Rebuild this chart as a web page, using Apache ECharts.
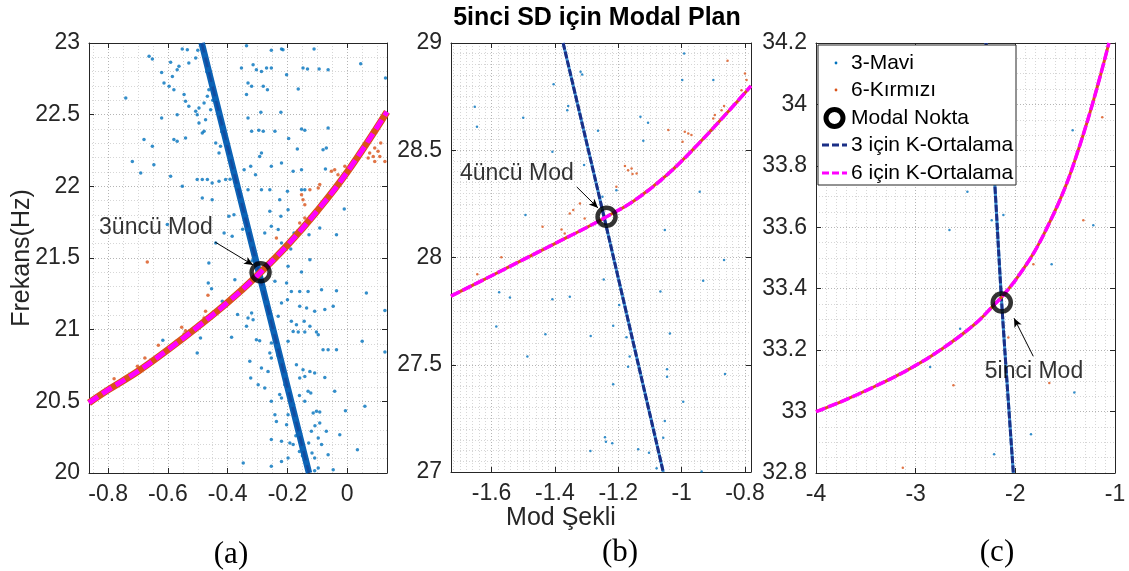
<!DOCTYPE html>
<html>
<head>
<meta charset="utf-8">
<script src="https://cdn.jsdelivr.net/npm/echarts@6/dist/echarts.min.js"></script>
<style>
  html, body { margin: 0; padding: 0; background: #fff; }
  #chart { width: 1129px; height: 571px; }
</style>
</head>
<body>
<div id="chart"></div>
<script>
// ---------------- data ----------------
// axis limits and tick labels of the three panels
const limAX = [-0.864, 0.133], limAY = [20, 23];
const limBX = [-1.728, -0.781], limBY = [27, 29];
const limCX = [-4, -1], limCY = [32.8, 34.2];
const ticksAX = [-0.8, -0.6, -0.4, -0.2, 0];
const ticksAY = [20, 20.5, 21, 21.5, 22, 22.5, 23];
const ticksBX = [-1.6, -1.4, -1.2, -1, -0.8];
const ticksBY = [27, 27.5, 28, 28.5, 29];
const ticksCX = [-4, -3, -2, -1];
const ticksCY = [32.8, 33, 33.2, 33.4, 33.6, 33.8, 34, 34.2];

// panel (a): 3-Mavi scattered points
const blueA = [
  [-0.663,22.907],[-0.652,22.888],[-0.591,22.865],[-0.563,22.837],[-0.530,22.860],[-0.535,22.953],[-0.552,22.958],
  [-0.507,22.895],[-0.621,22.795],[-0.585,22.767],[-0.569,22.814],[-0.741,22.616],[-0.613,22.721],[-0.596,22.698],
  [-0.580,22.674],[-0.546,22.640],[-0.530,22.558],[-0.541,22.593],[-0.507,22.523],[-0.502,22.500],[-0.496,22.547],
  [-0.479,22.581],[-0.468,22.628],[-0.463,22.674],[-0.457,22.535],[-0.569,22.500],[-0.621,22.477],[-0.580,22.326],
  [-0.569,22.314],[-0.541,22.337],[-0.479,22.384],[-0.485,22.372],[-0.496,22.442],[-0.474,22.465],[-0.440,22.302],
  [-0.429,22.233],[-0.424,22.279],[-0.407,22.302],[-0.680,22.326],[-0.652,22.279],[-0.719,22.174],[-0.647,22.151],
  [-0.691,22.093],[-0.591,22.070],[-0.552,22.000],[-0.502,22.047],[-0.485,22.047],[-0.468,22.047],[-0.452,22.023],
  [-0.429,22.035],[-0.407,22.047],[-0.485,21.919],[-0.452,21.907],[-0.396,21.791],[-0.379,21.802],[-0.412,21.674],
  [-0.440,21.605],[-0.602,21.733],[-0.385,21.651],
  [-0.337,22.981],[-0.254,22.949],[-0.220,22.958],[-0.215,22.953],[-0.111,22.958],[-0.354,22.826],[-0.315,22.849],
  [-0.304,22.814],[-0.287,22.802],[-0.270,22.826],[-0.254,22.826],[-0.203,22.779],[-0.148,22.826],[-0.133,22.819],
  [-0.094,22.819],[-0.064,22.814],[0.045,22.856],[0.128,22.756],[-0.332,22.721],[-0.320,22.698],[-0.281,22.698],
  [-0.337,22.640],[-0.164,22.679],[-0.267,22.674],[-0.289,22.516],[-0.222,22.516],[-0.332,22.477],[-0.320,22.384],
  [-0.296,22.391],[-0.281,22.384],[-0.242,22.384],[-0.153,22.400],[-0.142,22.391],[-0.064,22.407],[-0.196,22.333],
  [-0.167,22.260],[-0.081,22.256],[-0.070,22.267],[-0.287,22.233],[-0.293,22.209],[-0.323,22.140],[-0.345,22.116],
  [-0.254,22.140],[-0.220,22.163],[-0.181,22.105],[-0.153,22.116],[-0.073,22.121],[-0.307,22.081],[-0.332,21.977],
  [-0.287,21.977],[-0.259,21.977],[-0.226,21.907],[-0.200,21.965],[-0.153,21.977],[-0.142,21.977],[-0.259,21.826],
  [-0.198,21.837],[-0.222,21.791],[-0.231,21.698],[-0.276,21.674],[-0.254,21.721],[-0.092,21.709],[-0.128,21.663],
  [-0.036,21.663],[-0.010,21.842],[-0.189,21.563],[-0.220,21.605],[-0.178,21.674],
  [-0.463,21.465],[-0.465,21.326],[-0.454,21.286],[-0.376,21.349],[-0.617,20.926],[-0.491,20.942],[-0.502,20.837],
  [-0.387,20.947],[-0.367,21.105],[-0.418,21.198],
  [-0.198,21.442],[-0.153,21.402],[-0.125,21.488],[-0.242,21.337],[-0.203,21.326],[-0.187,21.267],[-0.159,21.267],
  [-0.131,21.267],[-0.086,21.279],[-0.036,21.272],[0.064,21.256],[0.126,21.133],[-0.220,21.186],[-0.200,21.209],
  [-0.159,21.163],[-0.136,21.151],[-0.109,21.128],[-0.075,21.140],[-0.047,21.163],[-0.320,21.116],[-0.332,21.081],
  [-0.315,21.070],[-0.337,21.023],[-0.231,21.093],[-0.187,21.058],[-0.170,21.035],[-0.144,21.058],[-0.125,21.023],
  [-0.103,20.984],[-0.181,20.988],[-0.164,20.984],[-0.142,20.984],[-0.097,20.965],[-0.304,20.930],[-0.293,20.923],
  [-0.254,20.907],[-0.198,20.919],[-0.081,20.860],[-0.064,20.860],[-0.036,20.860],[0.050,20.919],[0.126,20.844],
  [-0.259,20.837],[-0.254,20.802],[-0.326,20.779],[-0.287,20.733],[-0.265,20.709],[-0.220,20.756],[-0.170,20.756],
  [-0.148,20.721],[-0.125,20.709],[-0.109,20.698],[-0.142,20.674],[-0.159,20.663],[-0.323,20.663],[-0.075,20.667],
  [-0.298,20.616],[-0.276,20.593],[-0.226,20.547],[-0.209,20.616],[-0.131,20.570],[-0.122,20.558],[-0.042,20.570],
  [-0.254,20.500],[-0.220,20.523],[-0.142,20.500],[-0.103,20.430],[-0.092,20.426],[-0.114,20.419],[0.059,20.465],
  [-0.006,20.435],[-0.242,20.407],[-0.198,20.407],[-0.237,20.360],[-0.203,20.337],[-0.092,20.349],[-0.120,20.291],
  [-0.070,20.291],[-0.025,20.267],[-0.097,20.244],[-0.254,20.233],[-0.220,20.221],[-0.192,20.209],[-0.181,20.198],
  [-0.086,20.198],[-0.129,20.209],[0.034,20.163],[-0.064,20.128],[-0.109,20.105],[-0.198,20.105],[-0.220,20.081],
  [-0.348,20.070],[-0.254,20.047],[-0.097,20.035],[-0.047,20.023],[-0.109,20.016],
  [-0.160,20.150],[-0.150,20.120],[-0.118,20.140],[-0.172,20.260],[-0.108,20.330],[-0.180,20.480],[-0.160,20.540],
  [-0.200,20.620],[-0.232,20.820],[-0.245,20.960],[-0.262,21.120],[-0.272,21.200],[-0.318,21.480],[-0.350,21.700],
  [-0.392,22.050],[-0.420,22.380],[-0.450,22.600],[-0.470,22.800],[-0.500,22.950]
];
// panel (a): 6-Kırmızı scattered points
const orangeA = [
  [-0.153,21.942],[-0.148,21.907],[-0.142,21.872],[-0.125,21.977],[-0.097,21.988],[-0.092,22.012],[-0.053,22.105],
  [-0.042,22.116],[-0.031,22.081],[-0.008,22.140],[0.003,22.128],[0.075,22.326],[0.092,22.267],[0.103,22.244],
  [0.112,22.302],[0.087,22.209],[0.092,22.174],[0.126,22.174],[0.109,22.209],[0.075,22.233],[0.070,22.198],
  [0.036,22.221],[-0.159,21.744],[-0.142,21.779],[-0.237,21.640],
  [-0.669,21.472],[-0.466,21.240],[-0.474,21.128],[-0.479,21.081],[-0.554,21.016],[-0.541,20.993],[-0.546,20.970],
  [-0.572,20.919],[-0.632,20.891],[-0.677,20.802],[-0.702,20.744],[-0.780,20.658]
];
// panel (a): K-means centre lines
const k3A = [[-0.487,23.0],[-0.370,22.02],[-0.128,20.0]];
const k6A = [[-0.864,20.49],[-0.8,20.58],[-0.7,20.71],[-0.6,20.86],[-0.5,21.02],[-0.4,21.19],[-0.3,21.38],
             [-0.2,21.59],[-0.1,21.83],[0.0,22.10],[0.133,22.52]];
const modalA = [[-0.29, 21.40]];

// panel (b)
const blueB = [
  [-0.992,28.951],[-0.900,28.827],[-0.998,28.827],[-1.319,28.866],[-1.314,28.853],[-1.404,28.808],[-1.358,28.706],
  [-1.361,28.687],[-1.653,28.703],[-1.646,28.609],[-1.500,28.651],[-1.130,28.656],[-1.106,28.628],[-1.264,28.591],
  [-1.408,28.493],[-1.121,28.544],[-0.906,28.591],[-1.308,28.431],[-1.250,28.283],[-1.206,28.314],[-0.943,28.306],
  [-1.493,28.198],[-1.053,28.128],
  [-0.866,27.988],[-0.932,27.892],[-1.067,27.841],[-1.246,27.898],[-1.197,27.779],[-1.576,27.838],[-1.542,27.814],
  [-1.408,27.805],[-1.353,27.817],[-1.585,27.678],[-1.430,27.642],[-1.287,27.634],[-1.216,27.682],[-1.174,27.628],
  [-1.037,27.646],[-1.487,27.538],[-1.164,27.538],[-1.169,27.491],[-1.046,27.479],[-1.046,27.444],[-0.863,27.457],
  [-1.216,27.409],[-0.995,27.328],[-1.053,27.238],[-1.058,27.160],[-1.242,27.162],[-1.239,27.141],[-1.219,27.134],
  [-1.137,27.106],[-1.103,27.090],[-1.288,27.098],[-0.937,27.002],[-1.079,27.017]
];
const orangeB = [
  [-0.855,28.917],[-0.800,28.858],[-0.795,28.827],[-0.811,28.780],[-0.866,28.706],[-0.874,28.687],[-0.895,28.664],
  [-0.900,28.648],[-1.042,28.594],[-0.990,28.586],[-0.979,28.578],[-0.969,28.571],[-0.997,28.540],[-1.179,28.426],
  [-1.169,28.407],[-1.158,28.415],[-1.155,28.389],[-1.142,28.392],[-1.321,28.252],[-1.342,28.221],[-1.353,28.205],
  [-1.306,28.182],[-1.439,28.143],[-1.379,28.131],[-1.369,28.112],[-1.206,28.330],[-1.569,28.001],[-1.645,27.922]
];
const k3B = [[-1.374,29.0],[-1.245,28.19],[-1.058,27.0]];
const k6B = [[-1.728,27.82],[-1.6,27.915],[-1.5,27.99],[-1.4,28.065],[-1.3,28.14],[-1.237,28.19],
             [-1.15,28.265],[-1.05,28.38],[-0.95,28.525],[-0.85,28.685],[-0.781,28.80]];
const modalB = [[-1.237, 28.19]];

// panel (c)
const blueC = [
  [-1.425,33.916],[-2.481,33.716],[-2.237,33.623],[-2.120,33.640],[-2.661,33.591],[-1.218,33.607],
  [-1.636,33.480],[-2.554,33.270],[-2.855,33.145],[-1.408,33.062],[-1.843,32.926],[-2.213,32.861]
];
const orangeC = [
  [-1.128,33.958],[-1.318,33.623],[-1.819,33.480],[-2.070,33.241],[-2.621,33.086],[-1.659,33.093],[-3.129,32.817]
];
const k3C = [[-2.294,34.2],[-2.204,33.73],[-2.136,33.35],[-2.02,32.8]];
const k6C = [[-4,33.0],[-3.757,33.031],[-3.422,33.08],[-3.089,33.134],[-2.755,33.2],[-2.42,33.281],[-2.22,33.345],
             [-2.087,33.392],[-1.95,33.45],[-1.8,33.525],[-1.65,33.62],[-1.5,33.73],[-1.38,33.84],[-1.25,33.975],
             [-1.15,34.09],[-1.061,34.2]];
const modalC = [[-2.136, 33.355]];

// mode annotations: label text, label centre, arrow tail and arrow tip (data units)
const noteA = { text: '3üncü Mod', at: [-0.64, 21.709], from: [-0.442, 21.611], to: [-0.315, 21.451] };
const noteB = { text: '4üncü Mod', at: [-1.52, 28.392], from: [-1.331, 28.329], to: [-1.264, 28.231] };
const noteC = { text: '5inci Mod', at: [-1.813, 33.131], from: [-1.82, 33.18], to: [-2.013, 33.304] };

const legendNames = ['3-Mavi', '6-Kırmızı', 'Modal Nokta', '3 için K-Ortalama', '6 için K-Ortalama'];

// ---------------- drawing ----------------
const FONT = '"Liberation Sans", Arial, Helvetica, sans-serif';
const SERIF = '"Liberation Serif", "Times New Roman", serif';
const AXIS_COLOR = '#262626';
const BLUE = '#0072BD', ORANGE = '#D95319', NAVY = '#1b2f86', MAGENTA = '#FF00FF';

const grids = [
  { left: 89, top: 43, width: 298, height: 430 },
  { left: 451, top: 43, width: 300, height: 429 },
  { left: 816, top: 43, width: 299, height: 430 }
];

function axes(dim, gi, lim, ticks, minorN) {
  const step = +(ticks[1] - ticks[0]).toFixed(6);
  const base = {
    type: 'value', gridIndex: gi, min: lim[0], max: lim[1],
    minInterval: step, maxInterval: step,
    axisLine: { show: true, onZero: false, lineStyle: { color: AXIS_COLOR, width: 1 } },
    axisTick: { show: true, inside: true, length: 5, customValues: ticks, lineStyle: { color: AXIS_COLOR } },
    minorTick: { show: false, splitNumber: minorN }
  };
  const main = Object.assign({}, base, {
    position: dim === 'x' ? 'bottom' : 'left',
    axisLabel: { show: true, customValues: ticks, fontSize: 23, color: AXIS_COLOR, fontFamily: FONT,
                 margin: dim === 'x' ? 10 : 9 },
    splitLine: { show: true, lineStyle: { type: [1, 2], color: '#b5b5b5', width: 1 } },
    minorSplitLine: { show: true, lineStyle: { type: [1, 2], color: '#d6d6d6', width: 1 } }
  });
  const opp = Object.assign({}, base, {
    position: dim === 'x' ? 'top' : 'right',
    axisLabel: { show: false },
    splitLine: { show: false },
    minorSplitLine: { show: false }
  });
  return [main, opp];
}

const xAxes = [].concat(
  axes('x', 0, limAX, ticksAX, 4),
  axes('x', 1, limBX, ticksBX, 10),
  axes('x', 2, limCX, ticksCX, 10)
);
const yAxes = [].concat(
  axes('y', 0, limAY, ticksAY, 5),
  axes('y', 1, limBY, ticksBY, 10),
  axes('y', 2, limCY, ticksCY, 4)
);

function scatter(gi, data, color, size) {
  return { type: 'scatter', xAxisIndex: 2 * gi, yAxisIndex: 2 * gi, data: data, symbol: 'circle',
           symbolSize: size, itemStyle: { color: color }, silent: true, z: 2 };
}
function curve(gi, data, color, width, dash, z, opacity) {
  return { type: 'line', xAxisIndex: 2 * gi, yAxisIndex: 2 * gi, data: data, smooth: 0.4,
           symbol: 'none', showSymbol: false, silent: true, z: z, clip: true,
           lineStyle: { color: color, width: width, type: dash || 'solid', cap: 'butt',
                        opacity: opacity == null ? 1 : opacity } };
}
function modal(gi, data) {
  return { type: 'scatter', xAxisIndex: 2 * gi, yAxisIndex: 2 * gi, data: data, symbol: 'circle',
           symbolSize: 18, silent: true, z: 6,
           itemStyle: { color: 'rgba(0,0,0,0)', borderColor: '#000', borderWidth: 4.5 } };
}
function note(gi, n) {
  return { type: 'scatter', xAxisIndex: 2 * gi, yAxisIndex: 2 * gi, silent: true, z: 7,
           data: [{ value: n.at, name: n.text }], symbolSize: 1, itemStyle: { color: 'rgba(0,0,0,0)' },
           label: { show: true, position: 'inside', formatter: '{b}', fontSize: 23, color: '#000', fontFamily: FONT },
           markLine: { silent: true, animation: false, symbol: ['none', 'arrow'], symbolSize: [6, 9],
                       lineStyle: { color: '#000', width: 1, type: 'solid' }, label: { show: false },
                       data: [[{ coord: n.from }, { coord: n.to }]] } };
}

const series = [
  // (a)
  scatter(0, blueA, BLUE, 3.5),
  scatter(0, orangeA, ORANGE, 3.5),
  curve(0, k3A, '#0c63b6', 6.5, 'solid', 3),
  curve(0, k3A, NAVY, 2.5, [10, 5], 3, 0.45),
  curve(0, k6A, ORANGE, 7, 'solid', 4),
  curve(0, k6A, MAGENTA, 5, [11, 5], 4),
  modal(0, modalA),
  note(0, noteA),
  // (b)
  scatter(1, blueB, BLUE, 2.5),
  scatter(1, orangeB, ORANGE, 2.5),
  curve(1, k3B, '#3d93d6', 3, 'solid', 3),
  curve(1, k3B, NAVY, 3, [7, 2], 3),
  curve(1, k6B, ORANGE, 3, 'solid', 4),
  curve(1, k6B, MAGENTA, 3.5, [10, 3], 4),
  modal(1, modalB),
  note(1, noteB),
  // (c)
  scatter(2, blueC, BLUE, 2.5),
  scatter(2, orangeC, ORANGE, 2.5),
  curve(2, k3C, '#3d93d6', 3, 'solid', 3),
  curve(2, k3C, NAVY, 3, [7, 2], 3),
  curve(2, k6C, ORANGE, 3, 'solid', 4),
  curve(2, k6C, MAGENTA, 3.5, [10, 3], 4),
  modal(2, modalC),
  note(2, noteC)
];

// legend box drawn in the upper-left corner of panel (c)
const LX = 818, LY = 45, rowY = [63, 90, 118, 145, 173];
const legendGraphics = [
  { type: 'rect', shape: { x: LX, y: LY, width: 198, height: 140 },
    style: { fill: '#fff', stroke: AXIS_COLOR, lineWidth: 1 }, z: 100 },
  { type: 'circle', shape: { cx: 836, cy: rowY[0], r: 1.4 }, style: { fill: BLUE }, z: 101 },
  { type: 'circle', shape: { cx: 836, cy: rowY[1], r: 1.4 }, style: { fill: ORANGE }, z: 101 },
  { type: 'circle', shape: { cx: 834.5, cy: rowY[2], r: 8.5 }, style: { fill: 'none', stroke: '#000', lineWidth: 5 }, z: 101 },
  { type: 'line', shape: { x1: 822, y1: rowY[3], x2: 847, y2: rowY[3] },
    style: { stroke: NAVY, lineWidth: 3, lineDash: [7, 3] }, z: 101 },
  { type: 'line', shape: { x1: 822, y1: rowY[4], x2: 847, y2: rowY[4] },
    style: { stroke: MAGENTA, lineWidth: 3, lineDash: [7, 3] }, z: 101 }
].concat(legendNames.map((t, i) => ({
  type: 'text', x: 851, y: rowY[i], z: 101,
  style: { text: t, font: '21px ' + FONT, fill: '#000', textVerticalAlign: 'middle' }
})));

const textGraphics = [
  { type: 'text', x: 597, y: 18, z: 101,
    style: { text: '5inci SD için Modal Plan', font: 'bold 25px ' + FONT, fill: '#000',
             textAlign: 'center', textVerticalAlign: 'middle' } },
  { type: 'text', x: 22, y: 258, rotation: Math.PI / 2, z: 101,
    style: { text: 'Frekans(Hz)', font: '25px ' + FONT, fill: AXIS_COLOR,
             textAlign: 'center', textVerticalAlign: 'middle' } },
  { type: 'text', x: 561, y: 518, z: 101,
    style: { text: 'Mod Şekli', font: '25px ' + FONT, fill: AXIS_COLOR,
             textAlign: 'center', textVerticalAlign: 'middle' } },
  { type: 'text', x: 231, y: 555, z: 101,
    style: { text: '(a)', font: '31px ' + SERIF, fill: '#000', textAlign: 'center', textVerticalAlign: 'middle' } },
  { type: 'text', x: 620, y: 553, z: 101,
    style: { text: '(b)', font: '31px ' + SERIF, fill: '#000', textAlign: 'center', textVerticalAlign: 'middle' } },
  { type: 'text', x: 997, y: 553, z: 101,
    style: { text: '(c)', font: '31px ' + SERIF, fill: '#000', textAlign: 'center', textVerticalAlign: 'middle' } }
];

const chart = echarts.init(document.getElementById('chart'), null, { renderer: 'canvas' });
chart.setOption({
  animation: false,
  backgroundColor: '#fff',
  grid: grids,
  xAxis: xAxes,
  yAxis: yAxes,
  series: series,
  graphic: legendGraphics.concat(textGraphics)
});
</script>
</body>
</html>
